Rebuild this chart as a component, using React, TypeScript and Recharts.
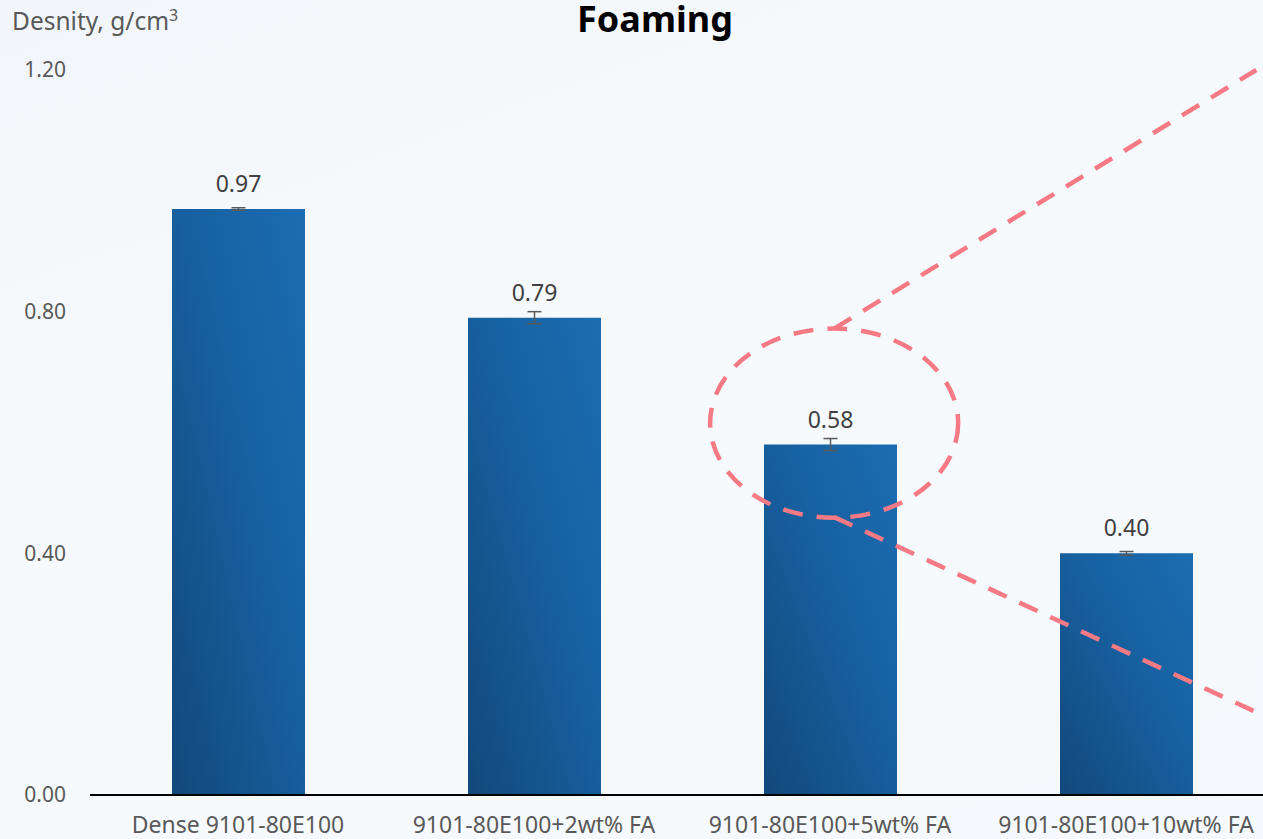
import React from "react";
import {
  BarChart,
  Bar,
  XAxis,
  YAxis,
  ErrorBar,
  LabelList,
  ReferenceLine,
} from "recharts";

// Foam density per formulation
const categories = [
  "Dense 9101-80E100",
  "9101-80E100+2wt% FA",
  "9101-80E100+5wt% FA",
  "9101-80E100+10wt% FA",
];
const density = [0.97, 0.79, 0.58, 0.4];
const densityErr = [0.002, 0.01, 0.01, 0.003];
const yTicks = [0, 0.4, 0.8, 1.2];

// Callout: ellipse around the 5 wt% bar and two lines fanning out to the right
// (x in category units on a 0–4 numeric axis, y in g/cm³)
const calloutEllipseBox = [
  { x: 2.095, y: 0.772 },
  { x: 2.933, y: 0.459 },
];
const calloutUpper = [
  { x: 2.514, y: 0.772 },
  { x: 3.94, y: 1.2 },
];
const calloutLower = [
  { x: 2.514, y: 0.46 },
  { x: 4.02, y: 0.119 },
];

const data = categories.map((name, i) => ({
  name,
  density: density[i],
  err: densityErr[i],
}));

const FONT = "'Noto Sans', 'Open Sans', sans-serif";
const CALLOUT = "#f67a84";

// Draws an ellipse inscribed in the box spanned by the segment's two end points
const EllipseShape = (props: any) => {
  const { x1, y1, x2, y2 } = props;
  return (
    <ellipse
      cx={(x1 + x2) / 2}
      cy={(y1 + y2) / 2}
      rx={Math.abs(x2 - x1) / 2}
      ry={Math.abs(y2 - y1) / 2}
      fill="none"
      stroke={CALLOUT}
      strokeWidth={4.5}
      strokeDasharray="20 14"
    />
  );
};

export default function App() {
  return (
    <div
      style={{
        position: "fixed",
        left: 0,
        top: 0,
        width: 1263,
        height: 839,
        overflow: "hidden",
        background: "linear-gradient(160deg, #f2f6fa 0%, #f7fafd 45%, #f5f9fd 100%)",
        fontFamily: FONT,
      }}
    >
      <div
        style={{
          position: "absolute",
          left: 12,
          top: 6,
          fontSize: 24.5,
          lineHeight: "30px",
          color: "#595959",
          whiteSpace: "nowrap",
        }}
      >
        Desnity, g/cm<sup style={{ fontSize: 16, verticalAlign: "super", lineHeight: 0 }}>3</sup>
      </div>
      <div
        style={{
          position: "absolute",
          left: 0,
          width: 1310,
          top: 1,
          textAlign: "center",
          fontSize: 36,
          lineHeight: "36px",
          fontWeight: 700,
          color: "#000",
        }}
      >
        Foaming
      </div>
      <BarChart
        width={1290}
        height={839}
        data={data}
        margin={{ top: 70, right: 16, bottom: 0, left: 0 }}
        style={{ position: "absolute", left: 0, top: 0, overflow: "visible" }}
      >
        <defs>
          <linearGradient id="barFill" x1="0" y1="1" x2="1" y2="0">
            <stop offset="0%" stopColor="#12487a" />
            <stop offset="55%" stopColor="#1760a0" />
            <stop offset="100%" stopColor="#1b6db2" />
          </linearGradient>
        </defs>
        <XAxis
          dataKey="name"
          axisLine={{ stroke: "#000", strokeWidth: 2 }}
          tickLine={false}
          height={44}
          tickSize={0}
          tickMargin={22}
          interval={0}
          tick={{ fontSize: 23, fill: "#595959", fontFamily: FONT }}
        />
        <XAxis
          xAxisId="n"
          dataKey="density"
          type="number"
          domain={[0, 4]}
          hide
          allowDataOverflow
        />
        <YAxis
          domain={[0, 1.2]}
          ticks={yTicks}
          width={90}
          axisLine={false}
          tickLine={false}
          tickSize={0}
          tickMargin={24}
          tickFormatter={(v: number) => v.toFixed(2)}
          tick={{ fontSize: 21, fill: "#595959", fontFamily: FONT }}
        />
        <Bar dataKey="density" barSize={133} fill="url(#barFill)" isAnimationActive={false}>
          <ErrorBar dataKey="err" width={7} stroke="#595959" strokeWidth={1.5} direction="y" />
          <LabelList
            dataKey="density"
            position="top"
            offset={17}
            formatter={(v: any) => Number(v).toFixed(2)}
            style={{ fontSize: 23, fill: "#404040", fontFamily: FONT }}
          />
        </Bar>
        <ReferenceLine
          xAxisId="n"
          segment={calloutEllipseBox}
          ifOverflow="visible"
          shape={EllipseShape}
        />
        <ReferenceLine
          xAxisId="n"
          segment={calloutUpper}
          ifOverflow="visible"
          stroke={CALLOUT}
          strokeWidth={4.5}
          strokeDasharray="20 14"
        />
        <ReferenceLine
          xAxisId="n"
          segment={calloutLower}
          ifOverflow="visible"
          stroke={CALLOUT}
          strokeWidth={4.5}
          strokeDasharray="20 14"
        />
      </BarChart>
    </div>
  );
}
